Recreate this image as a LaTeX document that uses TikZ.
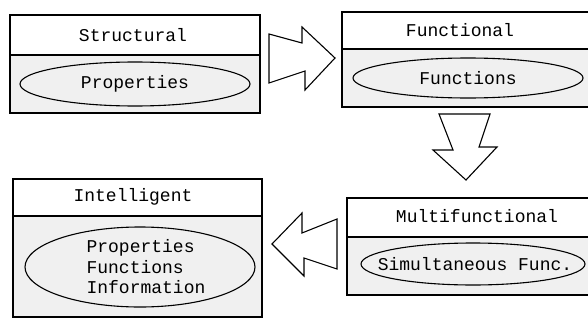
\documentclass[tikz,border=0pt]{standalone}
\usepackage{fontspec}
\setmonofont{Liberation Mono}

\begin{document}
\begin{tikzpicture}[x=1pt,y=-1pt,
  lbl/.style={font=\ttfamily\fontsize{18}{20.5}\selectfont,inner sep=0pt},
  frame/.style={draw,line width=1.2pt},
  oval/.style={draw,line width=1.1pt},
  shade/.style={fill=black!6},
  blockarrow/.style={draw,line width=1.1pt,fill=white,line join=miter}]
\clip (0,0) rectangle (588,321);
% structural
\fill[shade] (10,55) rectangle (260,113);
\draw[frame] (10,15) rectangle (260,113);
\draw[frame] (10,55) -- (260,55);
\node[lbl] (structural) at (133,35) {Structural};
\draw[oval] (135,84) ellipse (115 and 22);
\node[lbl] (properties) at (135,84) {Properties};
% functional
\fill[shade] (342,49) rectangle (600,107);
\draw[frame] (342,12) rectangle (600,107);
\draw[frame] (342,49) -- (600,49);
\node[lbl] (functional) at (460,30) {Functional};
\draw[oval] (468,78) ellipse (115 and 20);
\node[lbl] (functions) at (468,78) {Functions};
% multifunctional
\fill[shade] (347,237) rectangle (600,295);
\draw[frame] (347,198) rectangle (600,295);
\draw[frame] (347,237) -- (600,237);
\node[lbl] (multifunctional) at (477,216) {Multifunctional};
\draw[oval] (473,264) ellipse (112 and 21);
\node[lbl] (simultaneous) at (475,264) {Simultaneous Func.};
% intelligent
\fill[shade] (13,216) rectangle (262,317);
\draw[frame] (13,179) rectangle (262,317);
\draw[frame] (13,216) -- (262,216);
\node[lbl] (intelligent) at (133,197) {Intelligent};
\draw[oval] (140,267) ellipse (115 and 40);
\node[lbl,align=left] (combined) at (146,267) {Properties\\Functions\\Information};
% block arrows
\draw[blockarrow] (269,34) -- (302,43) -- (302,27) -- (335,58) -- (305,90) -- (305,71) -- (269,83) -- cycle;
\draw[blockarrow] (439,114) -- (490,114) -- (479,147) -- (497,147) -- (466,180) -- (433,150) -- (453,150) -- cycle;
\draw[blockarrow] (272,244) -- (302,213) -- (302,233) -- (337,219) -- (337,269) -- (304,258) -- (304,276) -- cycle;
\end{tikzpicture}
\end{document}
